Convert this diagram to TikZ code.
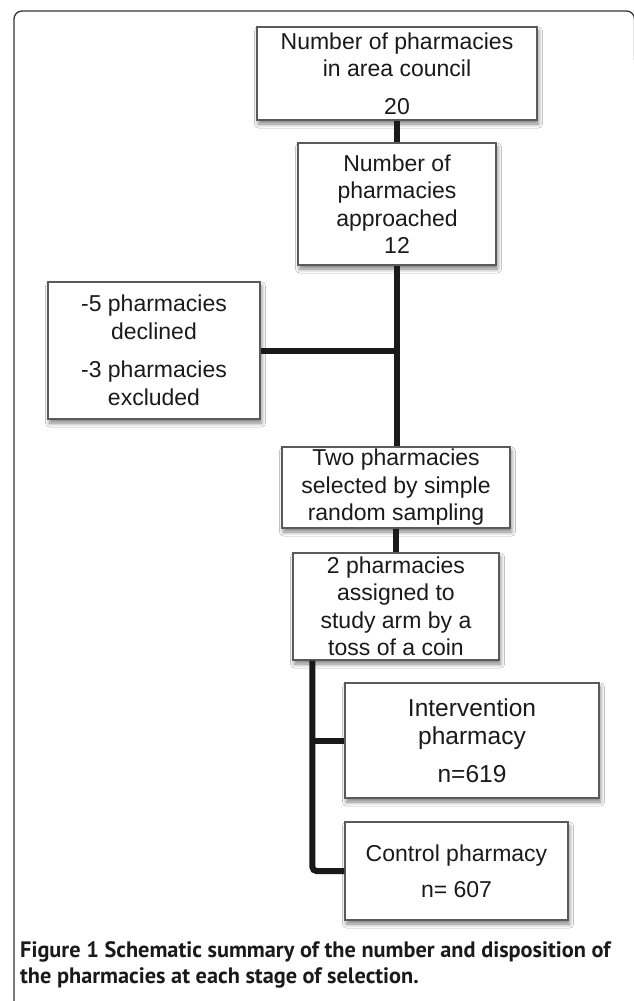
\documentclass[tikz,border=0pt]{standalone}
\usepackage{fontspec}
\setmainfont{Liberation Sans}
\newfontfamily\capfont{PT Sans}
\usetikzlibrary{shadows.blur}
\definecolor{boxline}{HTML}{5A5A5A}
\definecolor{txt}{HTML}{1A1A1A}
\definecolor{frameline}{HTML}{333333}
\tikzset{
  flowbox/.style={draw=boxline, line width=1.1pt, fill=white, inner sep=0pt,
    align=center, text=txt,
    font=\fontsize{23}{27.5}\selectfont,
    blur shadow={shadow xshift=1.5pt, shadow yshift=-4pt, shadow blur steps=8, shadow blur radius=4pt, shadow opacity=50}},
  conn/.style={line width=6pt, draw=black!90},
  captext/.style={anchor=base west, inner sep=0pt, text=txt, font=\capfont\bfseries\fontsize{22.3}{26}\selectfont},
}
\begin{document}
\begin{tikzpicture}[x=1pt,y=-1pt]
\useasboundingbox (0,0) rectangle (633,1001);
\fill[white] (0,0) rectangle (633,1001);
% outer frame
\draw[line width=1.3pt, frameline, rounded corners=8pt] (14,1010) -- (14,11) -- (634.5,11) -- (634.5,60);

% boxes
\node[flowbox, minimum width=280pt, minimum height=93pt] (b1) at (397,73.5)
  {Number of pharmacies\\in area council\\[10pt]20};
\node[flowbox, minimum width=198pt, minimum height=122pt] (b2) at (397,204)
  {Number of\\pharmacies\\approached\\12};
\node[flowbox, minimum width=212pt, minimum height=137pt] (b3) at (154,350.5)
  {-5 pharmacies\\declined\\[11pt]-3 pharmacies\\excluded};
\node[flowbox, minimum width=228pt, minimum height=81pt] (b4) at (396,487.5)
  {Two pharmacies\\selected by simple\\random sampling};
\node[flowbox, minimum width=206pt, minimum height=107pt] (b5) at (396,606.5)
  {2 pharmacies\\assigned to\\study arm by a\\toss of a coin};
\node[flowbox, minimum width=254pt, minimum height=115pt, font=\fontsize{24.5}{28}\selectfont] (b6) at (472,740.5)
  {Intervention\\pharmacy\\[10pt]n=619};
\node[flowbox, minimum width=223pt, minimum height=98pt] (b7) at (456.5,871)
  {Control pharmacy\\[8.5pt]n= 607};

% connectors
\draw[conn] (b1.south) -- (b2.north);
\draw[conn] (b2.south) -- (b2.south |- b4.north);
\draw[conn] (b3.east) -- (b3.east -| b2.south);
\draw[conn] (b4.south) -- (b4.south |- b5.north);
\coordinate (t) at ([xshift=20pt]b5.south west);
\draw[conn, rounded corners=4pt] (t) |- (b7.west);
\draw[conn] (t |- b6.west) -- (b6.west);

% caption
\node[captext] (cap1) at (20,957)
  {Figure 1 Schematic summary of the number and disposition of};
\node[captext] (cap2) at (20,983)
  {the pharmacies at each stage of selection.};
\end{tikzpicture}
\end{document}
